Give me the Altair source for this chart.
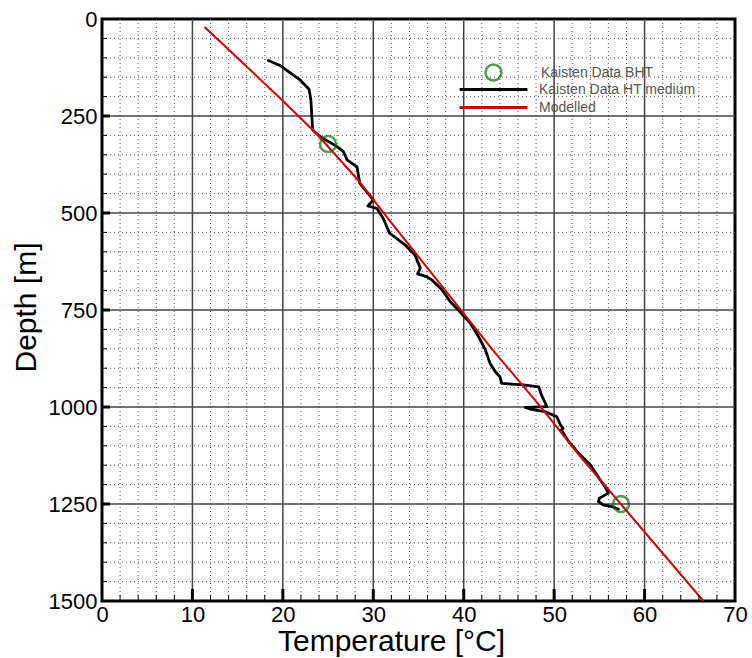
import altair as alt
import pandas as pd

# Bottom-hole temperature measurements (BHT)
bht_temp = [25.0, 57.4]
bht_depth = [322, 1250]

# Temperature log, HT medium
ht_temp = [18.4, 19.7, 21.9, 22.9, 23.1, 23.3, 24.1, 26.0, 26.7, 27.1, 28.2, 28.5,
           30.0, 29.4, 30.4, 31.1, 31.8, 32.4, 33.5, 34.6, 35.2, 34.9, 35.9, 36.5,
           37.6, 38.5, 39.6, 40.7, 41.6, 42.4, 42.9, 43.5, 44.0, 44.2, 46.6, 48.3,
           48.6, 49.2, 46.8, 47.5, 49.0, 50.3, 50.7, 51.0, 50.8, 51.6, 52.9, 54.0,
           55.1, 55.6, 56.0, 55.0, 54.9, 55.4, 56.4, 57.1]
ht_depth = [107, 120, 157, 181, 209, 286, 303, 329, 342, 363, 381, 423,
            466, 482, 488, 514, 552, 562, 582, 608, 642, 657, 664, 673,
            698, 728, 755, 783, 817, 853, 887, 909, 922, 939, 943, 948,
            969, 999, 1001, 1006, 1012, 1025, 1046, 1055, 1059, 1089, 1124, 1149,
            1188, 1205, 1222, 1235, 1244, 1252, 1257, 1263]

# Modelled temperature profile
model_temp = [11.4, 19.7, 23.7, 28.3, 31.9, 43.2, 46.0, 48.6, 53.2, 55.1, 61.6, 66.5]
model_depth = [22, 204, 295, 415, 522, 853, 930, 1002, 1137, 1188, 1366, 1500]

# Axis ticks and grid
x_labels = [0, 10, 20, 30, 40, 50, 60, 70]
y_labels = [0, 250, 500, 750, 1000, 1250, 1500]
x_major = [10, 20, 30, 40, 50, 60]
y_major = [250, 500, 750, 1000, 1250]
x_minor = [v for v in range(2, 70, 2) if v % 10]
y_minor = [v for v in range(50, 1500, 50) if v % 250]

S_BHT = "Kaisten Data BHT"
S_HT = "Kaisten Data HT medium"
S_MOD = "Modelled"

W, H = 633, 582
FONT = "Liberation Sans"

xs = alt.Scale(domain=[0, 70], nice=False, zero=False)
ys = alt.Scale(domain=[0, 1500], reverse=True, nice=False, zero=False)

x_axis = alt.Axis(values=x_labels, format="d", title="Temperature [°C]", grid=False, ticks=False,
                  domain=False, labelFont=FONT, labelFontSize=22, labelColor="black",
                  labelPadding=3, titleFont=FONT, titleFontSize=30, titleFontWeight="normal",
                  titleColor="black", titleX=289, titleY=49, titleBaseline="alphabetic",
                  titleAlign="center", titleAnchor="start", labelFlush=False)
y_axis = alt.Axis(values=y_labels, format="d", title="Depth [m]", grid=False, ticks=False,
                  domain=False, labelFont=FONT, labelFontSize=22, labelColor="black",
                  labelPadding=5, titleFont=FONT, titleFontSize=30, titleFontWeight="normal",
                  titleColor="black", titleX=-76, titleY=288, titleBaseline="middle",
                  titleAlign="center", titleAngle=270, labelFlush=False)


def X(field):
    return alt.X(field, scale=xs, axis=x_axis)


def Y(field):
    return alt.Y(field, scale=ys, axis=y_axis)


bht = pd.DataFrame({"T": bht_temp, "D": bht_depth, "series": S_BHT})
lines = pd.concat([
    pd.DataFrame({"T": ht_temp, "D": ht_depth, "series": S_HT, "i": range(len(ht_temp))}),
    pd.DataFrame({"T": model_temp, "D": model_depth, "series": S_MOD, "i": range(len(model_temp))}),
])

gx_minor = pd.DataFrame({"v": x_minor})
gy_minor = pd.DataFrame({"v": y_minor})
gx_major = pd.DataFrame({"v": x_major})
gy_major = pd.DataFrame({"v": y_major})

dot = dict(color="#555555", strokeWidth=1, strokeDash=[1, 3])
solid = dict(color="#444444", strokeWidth=1.5)

minor_v = alt.Chart(gx_minor).mark_rule(**dot).encode(x=X("v:Q"))
minor_h = alt.Chart(gy_minor).mark_rule(**dot).encode(y=Y("v:Q"))
major_v = alt.Chart(gx_major).mark_rule(**solid).encode(x=X("v:Q"))
major_h = alt.Chart(gy_major).mark_rule(**solid).encode(y=Y("v:Q"))

# inward ticks along the bottom and left edges
tick_bx_major = alt.Chart(gx_major).mark_rule(color="black", strokeWidth=3).encode(
    x=X("v:Q"), y=alt.value(H), y2=alt.value(H - 12))
tick_bx_minor = alt.Chart(gx_minor).mark_rule(color="black", strokeWidth=1).encode(
    x=X("v:Q"), y=alt.value(H), y2=alt.value(H - 6))
tick_ly_major = alt.Chart(gy_major).mark_rule(color="black", strokeWidth=3).encode(
    y=Y("v:Q"), x=alt.value(0), x2=alt.value(8))
tick_ly_minor = alt.Chart(gy_minor).mark_rule(color="black", strokeWidth=1).encode(
    y=Y("v:Q"), x=alt.value(0), x2=alt.value(5))

# short horizontal line symbol for the profile legend
LINE_SYMBOL = "M-6,0H6"

legend_lines = alt.Legend(title=None, orient="none", legendX=384, legendY=63,
                          symbolType=LINE_SYMBOL, symbolSize=128, symbolStrokeWidth=3,
                          labelFont=FONT, labelFontSize=14, labelColor="#555555",
                          labelOffset=38, padding=0, rowPadding=3)
legend_bht = alt.Legend(title=None, orient="none", legendX=382, legendY=44,
                        symbolType="circle", symbolSize=256, symbolStrokeWidth=2.5,
                        labelFont=FONT, labelFontSize=14, labelColor="#555555",
                        labelOffset=38, padding=0)

profiles = alt.Chart(lines).mark_line(strokeCap="round", strokeJoin="round", clip=True).encode(
    x=X("T:Q"),
    y=Y("D:Q"),
    color=alt.Color("series:N", scale=alt.Scale(domain=[S_HT, S_MOD], range=["black", "#dd0000"]),
                    legend=legend_lines),
    strokeWidth=alt.StrokeWidth("series:N", scale=alt.Scale(domain=[S_HT, S_MOD], range=[2.8, 2.0]),
                                legend=None),
    order="i:Q",
)

points = alt.Chart(bht).mark_point(filled=False, size=256, strokeWidth=2.5).encode(
    x=X("T:Q"),
    y=Y("D:Q"),
    color=alt.Color("series:N", scale=alt.Scale(domain=[S_BHT], range=["#0a6e0a"]),
                    legend=legend_bht),
)

chart = alt.layer(
    minor_v, minor_h, major_v, major_h, profiles, points,
    tick_bx_minor, tick_bx_major, tick_ly_minor, tick_ly_major,
).resolve_scale(color="independent").properties(
    width=W, height=H,
    autosize=alt.AutoSizeParams(type="none"),
    padding={"left": 102, "top": 19, "right": 17, "bottom": 57},
).configure_view(stroke="black", strokeWidth=3)

chart.save("out.html", embed_options={"renderer": "svg", "actions": False})
